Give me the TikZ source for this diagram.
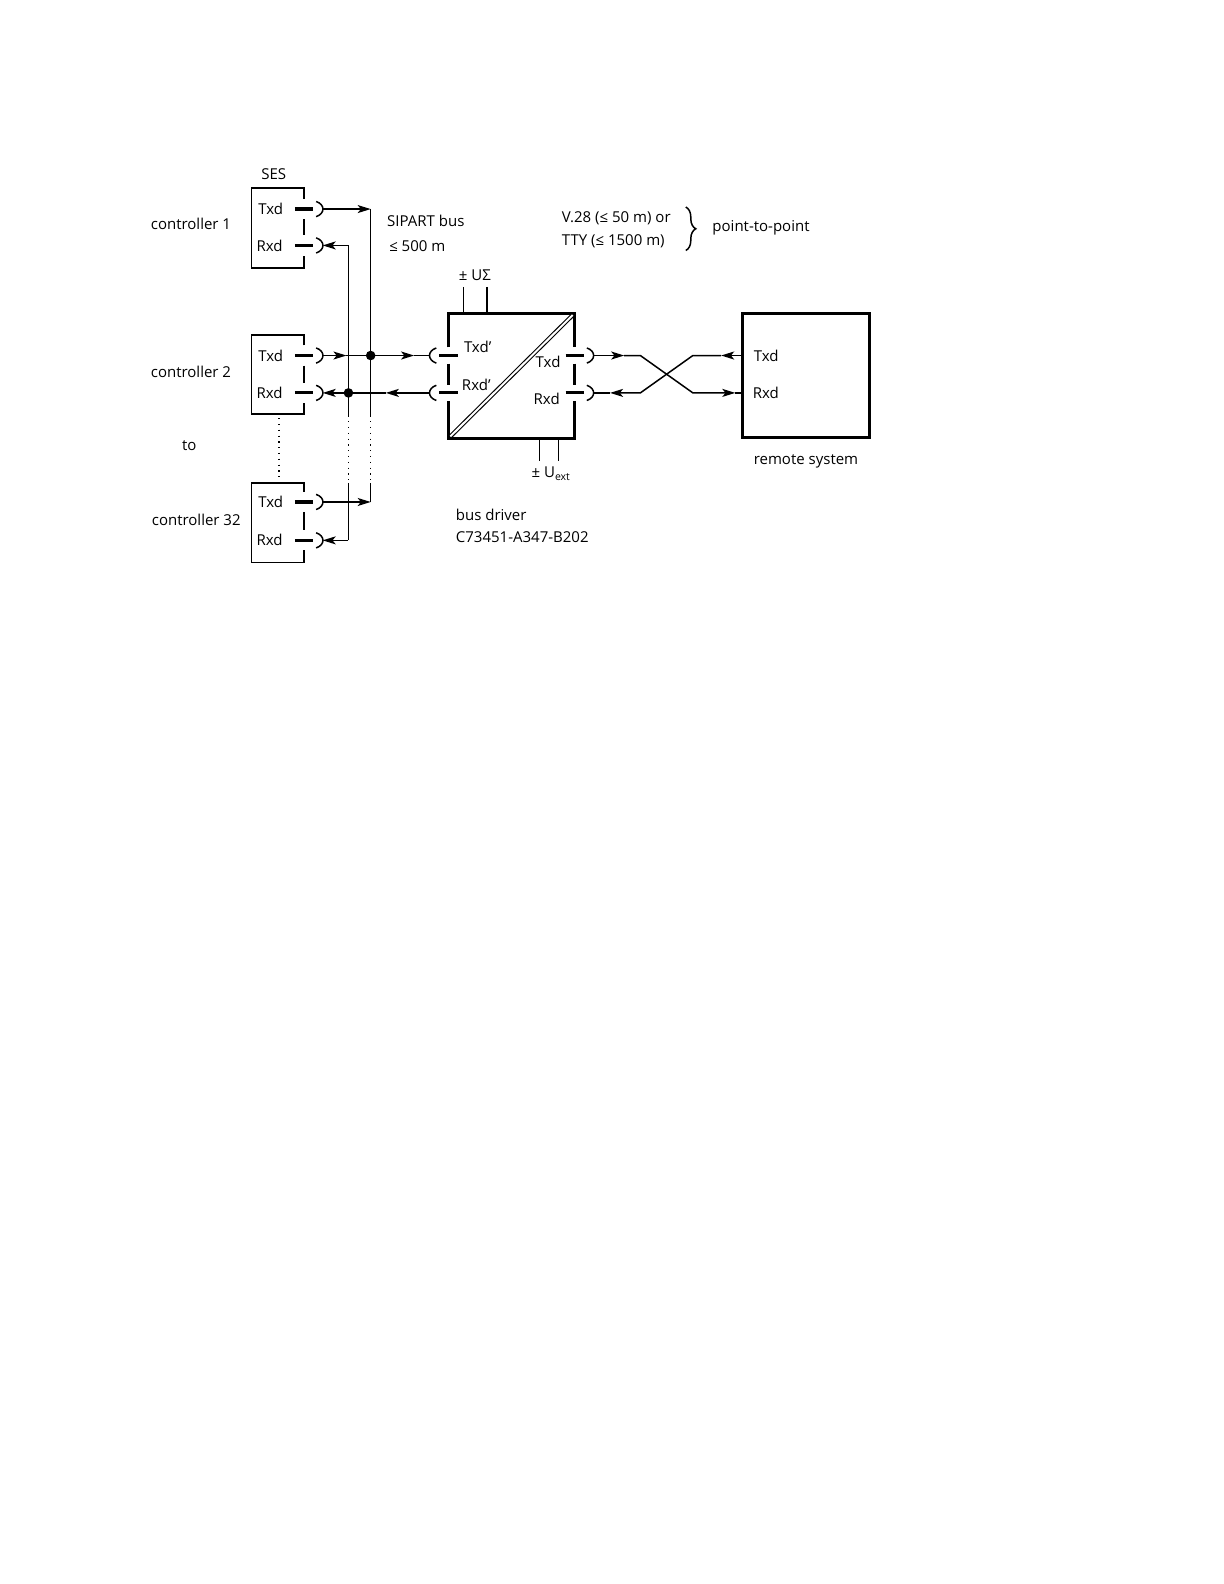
\documentclass[tikz,border=0pt]{standalone}
\usepackage{fontspec}
\setmainfont{Open Sans}
\usetikzlibrary{arrows.meta,decorations.pathreplacing}
\definecolor{navyline}{RGB}{20,20,140}
\tikzset{
  thinbox/.style={line width=0.85pt},
  thickbox/.style={line width=1.6pt},
  plate/.style={line width=1.6pt},
  wire/.style={line width=0.75pt},
  tip/.style={-{Stealth[length=6.5pt,width=4pt,inset=1.6pt]}},
  dotline/.style={line width=0.75pt,dash pattern=on 0.6pt off 2.3pt},
  lbl/.style={font=\fontsize{7.5}{8}\selectfont,inner sep=0pt},
  junction/.style={circle,fill=black,inner sep=0pt,minimum size=4.8pt},
  pt/.style={inner sep=0pt,minimum size=0pt},
}
% output jack ")" on a box edge at x=#1, y=#2
\newcommand\outjack[2]{%
  \draw[plate] ({#1-9},#2) -- ({#1+9},#2);
  \draw[wire] ({#1+12},{#2-7.5}) .. controls ({#1+21},{#2-4.5}) and ({#1+21},{#2+4.5}) .. ({#1+12},{#2+7.5});}
% input jack "(" on a box edge at x=#1, y=#2
\newcommand\injack[2]{%
  \draw[plate] ({#1-9},#2) -- ({#1+9},#2);
  \draw[wire] ({#1-12},{#2-7.5}) .. controls ({#1-21},{#2-4.5}) and ({#1-21},{#2+4.5}) .. ({#1-12},{#2+7.5});}
% controller box: #1 top, #2 txd y, #3 rxd y, #4 bottom
\newcommand\ctrlbox[4]{%
  \draw[thinbox] (301,{#2-10}) -- (301,#1) -- (249,#1) -- (249,#4) -- (301,#4) -- (301,{#3+10});
  \draw[thinbox] (301,{#2+10}) -- (301,{#3-10});
  \outjack{301}{#2}\outjack{301}{#3}}
\begin{document}
\begin{tikzpicture}[x=0.505pt,y=-0.505pt]
\useasboundingbox (0pt,0pt) rectangle (612pt,-792pt);

% ---------- controllers ----------
\ctrlbox{186}{207}{243}{265}
\ctrlbox{332}{352}{389}{410}
\ctrlbox{478}{497}{535}{557}
\node[pt] (c1) at (275,225) {};
\node[pt] (c2) at (275,371) {};
\node[pt] (c3) at (275,517) {};

\node[lbl] (ses) at (271,172) {SES};
\node[lbl] at (268,207) {Txd};
\node[lbl] at (267,243) {Rxd};
\node[lbl] at (268,352) {Txd};
\node[lbl] at (267,389) {Rxd};
\node[lbl] at (268,497) {Txd};
\node[lbl] at (267,535) {Rxd};

\node[lbl,anchor=west] (l1) at (149,222) {controller 1};
\node[lbl,anchor=west] (l2) at (149,368) {controller 2};
\node[lbl,anchor=west] (lto) at (180,441) {to};
\node[lbl,anchor=west] (l3) at (150,515) {controller 32};

% jack end points
\coordinate (c1tx) at (319.5,207);
\coordinate (c1rx) at (319.5,243);
\coordinate (c2tx) at (319.5,352);
\coordinate (c2rx) at (319.5,389);
\coordinate (c3tx) at (319.5,497);
\coordinate (c3rx) at (319.5,535);

% bus corners
\coordinate (txtop) at (367,207);
\coordinate (txbot) at (367,497);
\coordinate (rxtop) at (345,243);
\coordinate (rxbot) at (345,535);

% bus verticals
\draw[wire] (txtop) -- (367,413);
\draw[dotline] (367,417) -- (367,475);
\draw[wire] (367,478) -- (txbot);
\draw[wire] (rxtop) -- (345,413);
\draw[dotline] (345,417) -- (345,475);
\draw[wire] (345,478) -- (rxbot);
\draw[dotline] (276,414) -- (276,474);

% controller 1 and 32
\draw[wire,tip] (c1tx) -- (txtop);
\draw[wire,tip] (rxtop) -- (c1rx);
\draw[wire,tip] (c3tx) -- (txbot);
\draw[wire,tip] (rxbot) -- (c3rx);

% ---------- bus driver ----------
\node[pt] (bd) at (506.5,372) {};
\draw[thickbox] (444,344) -- (444,310) -- (569,310) -- (569,344);
\draw[thickbox] (444,360) -- (444,381);
\draw[thickbox] (569,360) -- (569,381);
\draw[thickbox] (444,397) -- (444,434) -- (569,434) -- (569,397);
\injack{444}{352}\injack{444}{389}
\outjack{569}{352}\outjack{569}{389}
\draw[double,double distance=1pt,line width=0.55pt] (446,432) -- (567,312);

\node[lbl,anchor=west] at (459,343) {Txd'};
\node[lbl,anchor=west] at (457,381) {Rxd'};
\node[lbl,anchor=west] at (530,358) {Txd};
\node[lbl,anchor=west] at (528,395) {Rxd};

\coordinate (bdtxin) at (425.5,352);
\coordinate (bdrxin) at (425.5,389);
\coordinate (bdtxout) at (587.5,352);
\coordinate (bdrxout) at (587.5,389);

% supply
\draw[wire] (459,284) -- (459,310);
\draw[wire] (482,284) -- (482,310);
\node[lbl,anchor=west] (usig) at (454,272) {± UΣ};
\draw[wire] (534,434) -- (534,456);
\draw[wire] (553,434) -- (553,456);
\node[lbl,anchor=west] (uext) at (526,469) {± U\textsubscript{ext}};

% controller 2 to bus driver
\coordinate (a1) at (343,352);
\coordinate (a2) at (410,352);
\draw[wire,tip] (c2tx) -- (a1);
\draw[wire,tip] (a1) -- (a2);
\draw[wire] (a2) -- (bdtxin);
\coordinate (b1) at (382,389);
\draw[wire,tip] (bdrxin) -- (b1);
\draw[wire,tip] (b1) -- (c2rx);
\node[junction] (j1) at (367,352) {};
\node[junction] (j2) at (345,389) {};

\node[lbl,anchor=west] (sip) at (383,219) {SIPART bus};
\node[lbl,anchor=west] (len) at (385,244) {≤ 500 m};

\node[lbl,anchor=west] (bdl1) at (451,510) {bus driver};
\node[lbl,anchor=west] (bdl2) at (451,532) {C73451-A347-B202};

% ---------- remote system ----------
\draw[thickbox] (735,310) rectangle (861,433);
\node[pt] (rs) at (798,371) {};
\node[lbl,anchor=west] at (746,352) {Txd};
\node[lbl,anchor=west] at (745,389) {Rxd};
\node[lbl] (rsl) at (798,457) {remote system};
\coordinate (rstx) at (735,352);
\coordinate (rsrx) at (735,389);

% crossover
\coordinate (u1) at (618,352);
\coordinate (u2) at (728,389);
\draw[wire,tip] (bdtxout) -- (u1);
\draw[wire,tip] (u1) -- (634,352) -- (686,389) -- (u2);
\draw[wire] (u2) -- (rsrx);
\coordinate (d1) at (714,352);
\coordinate (d2) at (604,389);
\draw[wire,tip] (rstx) -- (d1);
\draw[wire,tip] (d1) -- (686,352) -- (634,389) -- (d2);
\draw[wire] (d2) -- (bdrxout);

% ---------- notes ----------
\node[lbl,anchor=west] (v28) at (556,216) {V.28 (≤ 50 m) or};
\node[lbl,anchor=west] (tty) at (556,239) {TTY (≤ 1500 m)};
\draw[line width=0.75pt,decorate,decoration={brace,amplitude=5pt,aspect=0.5}] (679,205) -- (679,248);
\node[lbl,anchor=west] (p2p) at (705,226) {point-to-point};

% footnote rule
\draw[navyline,line width=0.9pt] (126,1574) -- (266,1574);
\end{tikzpicture}
\end{document}
